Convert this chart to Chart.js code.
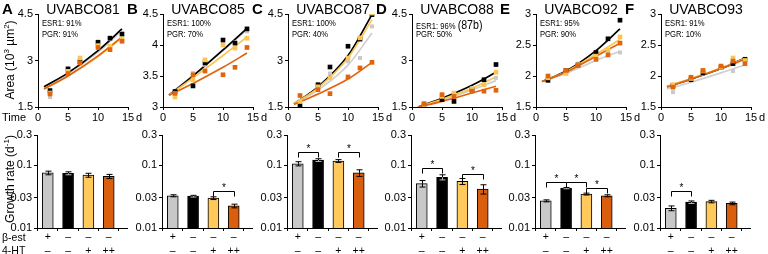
<!DOCTYPE html>
<html>
<head>
<meta charset="utf-8">
<script src="https://cdn.jsdelivr.net/npm/chart.js@4.4.1/dist/chart.umd.min.js"></script>
<style>
  body { margin: 0; width: 768px; height: 254px; position: relative; overflow: hidden; background: #fff;
         font-family: "Liberation Sans", Arial, sans-serif; color: #000; }
  canvas { position: absolute; }
  .t { position: absolute; white-space: nowrap; line-height: 1; }
  .rot { position: absolute; white-space: nowrap; transform: translate(-50%, -50%) rotate(-90deg); font-size: 12px; }
</style>
</head>
<body>
<script>
// ---- data ----
const letters = ['A', 'B', 'C', 'D', 'E', 'F'];
const names = ['UVABCO81', 'UVABCO85', 'UVABCO87', 'UVABCO88', 'UVABCO92', 'UVABCO93'];
const esr = ['91%', '100%', '100%', '96%', '95%', '91%'];
const pgr = ['91%', '70%', '40%', '50%', '90%', '10%'];

const days = [2, 5, 7, 10, 12, 14];
const fitDays = [1, 5, 10, 14];
const dayTicks = [0, 5, 10, 15];
const areaTicks = [[1.5, 3, 4.5], [3, 3.5, 4, 4.5], [1.5, 3, 4.5], [1.5, 3, 4.5], [1.5, 2, 2.5, 3], [1.5, 2, 2.5, 3]];

// series order in every panel: beta-est, control (black), 4-HT +, 4-HT ++
const areaA = [[1.82, 2.68, 3.0, 3.56, 3.7, 3.88], [2.03, 2.73, 2.96, 3.59, 3.72, 3.85],
               [1.95, 2.65, 3.08, 3.48, 3.46, 3.7], [1.92, 2.58, 2.92, 3.42, 3.35, 3.62]];
const areaB = [[3.23, 3.55, 3.68, 4.06, 4.04, 4.22], [3.25, 3.34, 3.71, 4.08, 4.03, 4.26],
               [3.16, 3.44, 3.76, 4.0, 3.95, 4.11], [3.22, 3.52, 3.58, 3.52, 3.64, 3.96]];
const areaC = [[1.61, 2.11, 2.58, 2.97, 3.08, 4.1], [1.54, 2.22, 2.79, 3.46, 3.69, 4.48],
               [1.68, 2.15, 2.44, 3.08, 3.73, 4.53], [1.87, 2.06, 1.93, 2.47, 2.76, 2.94]];
const areaD = [[1.55, 1.8, 1.9, 2.1, 2.3, 2.44], [1.55, 1.74, 1.68, 2.06, 2.38, 2.87],
               [1.58, 1.84, 1.95, 2.08, 2.22, 2.62], [1.61, 1.9, 1.84, 2.01, 2.01, 2.04]];
const areaE = [[1.97, 2.06, 2.2, 2.26, 2.37, 2.38], [1.93, 2.09, 2.18, 2.38, 2.6, 2.9],
               [1.97, 2.04, 2.18, 2.32, 2.42, 2.63], [2.0, 2.09, 2.17, 2.27, 2.34, 2.53]];
const areaF = [[1.74, 1.94, 2.04, 2.13, 2.08, 2.22], [1.85, 1.94, 2.05, 2.14, 2.2, 2.27],
               [1.86, 1.96, 2.08, 2.14, 2.29, 2.25], [1.82, 1.98, 2.09, 2.16, 2.24, 2.2]];

const fitA = [[2.12, 2.57, 3.27, 3.97], [2.15, 2.6, 3.32, 4.02], [2.08, 2.5, 3.13, 3.74], [2.08, 2.5, 3.15, 3.76]];
const fitB = [[3.2, 3.51, 3.91, 4.25], [3.19, 3.5, 3.92, 4.27], [3.19, 3.47, 3.83, 4.13], [3.19, 3.38, 3.64, 3.87]];
const fitC = [[1.6, 2.05, 2.85, 3.89], [1.6, 2.15, 3.16, 4.48], [1.6, 2.12, 3.08, 4.32], [1.58, 1.92, 2.4, 2.94]];
const fitD = [[1.5, 1.72, 2.05, 2.35], [1.5, 1.78, 2.2, 2.62], [1.5, 1.75, 2.1, 2.47], [1.5, 1.68, 1.95, 2.17]];
const fitE = [[1.91, 2.04, 2.25, 2.4], [1.91, 2.08, 2.41, 2.76], [1.91, 2.07, 2.35, 2.59], [1.91, 2.06, 2.32, 2.53]];
const fitF = [[1.79, 1.9, 2.05, 2.18], [1.83, 1.95, 2.12, 2.29], [1.83, 1.96, 2.13, 2.28], [1.82, 1.95, 2.12, 2.27]];

const rateTicks = [0.01, 0.03, 0.1, 0.3];
const estRow = ['+', '–', '–', '–'];
const htRow = ['–', '–', '+', '++'];
const rateA = [0.075, 0.074, 0.069, 0.066], errA = [0.005, 0.004, 0.005, 0.005];
const rateB = [0.0325, 0.032, 0.0298, 0.0224], errB = [0.0012, 0.001, 0.0015, 0.0015];
const rateC = [0.105, 0.12, 0.116, 0.075], errC = [0.008, 0.006, 0.006, 0.009];
const rateD = [0.0507, 0.064, 0.055, 0.0416], errD = [0.006, 0.006, 0.006, 0.007];
const rateE = [0.027, 0.043, 0.0346, 0.0325], errE = [0.001, 0.001, 0.0012, 0.0012];
const rateF = [0.0206, 0.0257, 0.0263, 0.0246], errF = [0.0018, 0.0012, 0.0012, 0.0012];
// significance brackets: [from bar, to bar, level]
const sigA = [], sigB = [[2, 3, 0.039]], sigC = [[0, 1, 0.162], [2, 3, 0.162]];
const sigD = [[0, 1, 0.091], [2, 3, 0.0726]], sigE = [[0, 1, 0.054], [1, 2, 0.054], [2, 3, 0.043]];
const sigF = [[0, 1, 0.039]];

const areas = [areaA, areaB, areaC, areaD, areaE, areaF];
const fits = [fitA, fitB, fitC, fitD, fitE, fitF];
const rates = [rateA, rateB, rateC, rateD, rateE, rateF];
const errs = [errA, errB, errC, errD, errE, errF];
const sigs = [sigA, sigB, sigC, sigD, sigE, sigF];

const pointColors = ['#c9c9c9', '#000000', '#fcc553', '#e0640f'];
const lineColors = ['#cfcfcf', '#000000', '#fcc553', '#e0640f'];
const barColors = ['#c8c8c8', '#000000', '#ffc95c', '#d95f0e'];

const panelLeft = [38, 163, 288, 412, 536, 661];

function addText(html, left, top, style) {
  const d = document.createElement('div');
  d.className = 't';
  d.innerHTML = html;
  d.style.left = left + 'px';
  d.style.top = top + 'px';
  Object.assign(d.style, style || {});
  document.body.appendChild(d);
  return d;
}

function makeCanvas(left, top, w, h) {
  const c = document.createElement('canvas');
  c.width = w; c.height = h;
  c.style.left = left + 'px'; c.style.top = top + 'px';
  c.style.width = w + 'px'; c.style.height = h + 'px';
  document.body.appendChild(c);
  return c.getContext('2d');
}

const axisGrid = { drawOnChartArea: false, tickLength: 3, color: '#000', lineWidth: 1 };
const axisBorder = { color: '#000', width: 1 };
const font11 = { family: '"Liberation Sans", Arial, sans-serif', size: 11 };

function errorPlugin(vals, es, brackets) {
  return {
    id: 'errbars',
    afterDatasetsDraw(chart) {
      const { ctx, scales: { x, y } } = chart;
      ctx.save();
      ctx.lineWidth = 1;
      vals.forEach((v, i) => {
        const px = Math.round(x.getPixelForValue(i + 1)) + 0.5;
        const t = y.getPixelForValue(v + es[i]);
        const b = y.getPixelForValue(v - es[i]);
        const m = y.getPixelForValue(v);
        ctx.strokeStyle = '#000';
        ctx.beginPath();
        ctx.moveTo(px, t); ctx.lineTo(px, m);
        ctx.moveTo(px - 3, t); ctx.lineTo(px + 3, t);
        ctx.stroke();
        ctx.strokeStyle = i === 1 ? '#bbb' : '#000';
        ctx.beginPath();
        ctx.moveTo(px, m); ctx.lineTo(px, b);
        ctx.moveTo(px - 3, b); ctx.lineTo(px + 3, b);
        ctx.stroke();
      });
      ctx.strokeStyle = '#000';
      ctx.fillStyle = '#000';
      ctx.font = '10px "Liberation Sans", Arial, sans-serif';
      ctx.textAlign = 'center';
      ctx.textBaseline = 'alphabetic';
      brackets.forEach(([i, j, lvl]) => {
        const x1 = Math.round(x.getPixelForValue(i + 1)) + 0.5;
        const x2 = Math.round(x.getPixelForValue(j + 1)) + 0.5;
        const yy = Math.round(y.getPixelForValue(lvl)) + 0.5;
        ctx.beginPath();
        ctx.moveTo(x1, yy + 5); ctx.lineTo(x1, yy); ctx.lineTo(x2, yy); ctx.lineTo(x2, yy + 5);
        ctx.stroke();
        ctx.fillText('*', (x1 + x2) / 2, yy - 1);
      });
      ctx.restore();
    }
  };
}

for (let p = 0; p < 6; p++) {
  const L = panelLeft[p];

  // ---- growth curves ----
  const datasets = [];
  for (let s = 0; s < 4; s++) {
    datasets.push({
      data: fitDays.map((d, k) => ({ x: d, y: fits[p][s][k] })),
      showLine: true, pointRadius: 0, borderColor: lineColors[s], borderWidth: 1.7,
      cubicInterpolationMode: 'monotone', order: 20 - s
    });
    datasets.push({
      data: days.map((d, k) => ({ x: d, y: areas[p][s][k] })),
      pointStyle: 'rect', pointRadius: s === 0 ? 2.8 : 3.3, borderWidth: 0,
      backgroundColor: pointColors[s], pointBackgroundColor: pointColors[s], order: 4 - s
    });
  }
  const ticksY = areaTicks[p];
  new Chart(makeCanvas(L - 38, 0, 143, 125), {
    type: 'scatter',
    data: { datasets },
    options: {
      responsive: false, animation: false, events: [],
      layout: { padding: { top: 14, right: 15, left: 0, bottom: 0 } },
      plugins: { legend: { display: false }, tooltip: { enabled: false } },
      scales: {
        x: {
          type: 'linear', min: 0, max: 15,
          afterBuildTicks: s => { s.ticks = dayTicks.map(v => ({ value: v })); },
          afterFit: s => { s.height = 18; },
          grid: axisGrid, border: axisBorder,
          ticks: { color: '#000', font: font11, padding: 1, maxRotation: 0, autoSkip: false }
        },
        y: {
          type: 'linear', min: ticksY[0], max: ticksY[ticksY.length - 1],
          afterBuildTicks: s => { s.ticks = ticksY.map(v => ({ value: v })); },
          afterFit: s => { s.width = 38; },
          grid: axisGrid, border: axisBorder,
          ticks: { color: '#000', font: font11, padding: 2, callback: v => String(v) }
        }
      }
    }
  });

  // ---- growth rates ----
  new Chart(makeCanvas(L - 39, 125, 143, 129), {
    type: 'bar',
    data: {
      datasets: [{
        data: rates[p].map((v, i) => ({ x: i + 1, y: v })),
        backgroundColor: barColors, borderColor: '#000', borderWidth: 1, barThickness: 11
      }]
    },
    options: {
      responsive: false, animation: false, events: [],
      layout: { padding: { top: 10, right: 15, left: 0, bottom: 0 } },
      plugins: { legend: { display: false }, tooltip: { enabled: false } },
      scales: {
        x: {
          type: 'linear', min: 0.47, max: 4.9, offset: false,
          afterBuildTicks: s => { s.ticks = [1, 2, 3, 4].map(v => ({ value: v })); },
          afterFit: s => { s.height = 26; },
          grid: { drawOnChartArea: false, tickLength: 3, color: '#000', offset: true },
          border: axisBorder,
          ticks: {
            color: '#000', font: { family: font11.family, size: 10.5, lineHeight: 1.25 },
            padding: 0, maxRotation: 0, autoSkip: false,
            callback: v => [estRow[v - 1], htRow[v - 1]]
          }
        },
        y: {
          type: 'logarithmic', min: 0.01, max: 0.3,
          afterBuildTicks: s => { s.ticks = rateTicks.map(v => ({ value: v })); },
          afterFit: s => { s.width = 38; },
          grid: axisGrid, border: axisBorder,
          ticks: { color: '#000', font: font11, padding: 2, callback: v => String(v) }
        }
      }
    },
    plugins: [errorPlugin(rates[p], errs[p], sigs[p])]
  });

  // ---- text ----
  addText(letters[p], L - 36, 1, { fontSize: '15px', fontWeight: 'bold' });
  addText(names[p], L + 45, 2, { fontSize: '14px', transform: 'translateX(-50%)' });
  addText('ESR1: ' + esr[p] + (p === 3 ? ' <span style="font-size:12.5px">(87b)</span>' : ''), L + 3.5, 19,
          { fontSize: '9px', transform: 'scaleX(0.85)', transformOrigin: 'left' });
  addText('PGR: ' + pgr[p], L + 3.5, 30, { fontSize: '9px', transform: 'scaleX(0.85)', transformOrigin: 'left' });
  addText('d', L + 98, 112, { fontSize: '11px' });
}

addText('Time', 2, 112, { fontSize: '11px' });
addText('β-est', 2, 232, { fontSize: '10.5px' });
addText('4-HT', 2, 245, { fontSize: '10.5px' });
const ya = document.createElement('div');
ya.className = 'rot'; ya.style.left = '9px'; ya.style.top = '60px';
ya.innerHTML = 'Area (10<sup style="font-size:8px">3</sup> µm<sup style="font-size:8px">2</sup>)';
document.body.appendChild(ya);
const yb = document.createElement('div');
yb.className = 'rot'; yb.style.left = '9px'; yb.style.top = '179px';
yb.innerHTML = 'Growth rate (d<sup style="font-size:8px">-1</sup>)';
document.body.appendChild(yb);
</script>
</body>
</html>
